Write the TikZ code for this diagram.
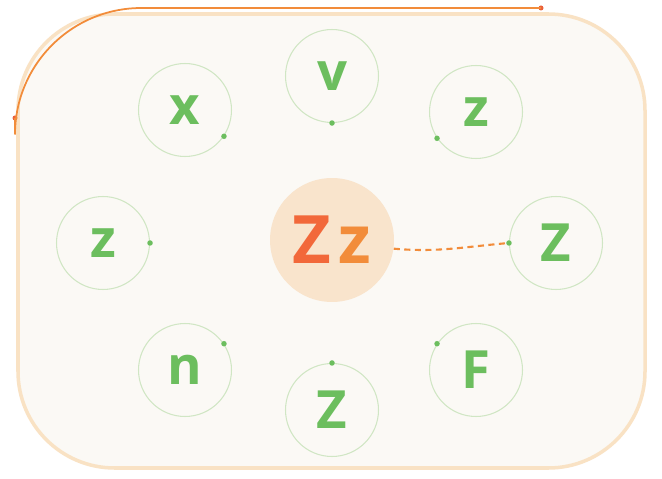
\documentclass[tikz,border=0pt]{standalone}
\usepackage{fontspec}
\setsansfont{Open Sans}
\usepackage{tikz}
\usetikzlibrary{positioning}
\definecolor{leaf}{RGB}{108,190,94}
\definecolor{ringgreen}{RGB}{208,230,196}
\definecolor{peach}{RGB}{249,228,204}
\definecolor{boxfill}{RGB}{251,249,245}
\definecolor{boxedge}{RGB}{249,226,196}
\definecolor{tang}{RGB}{242,140,58}
\definecolor{tangdark}{RGB}{234,96,58}
\definecolor{zred}{RGB}{242,104,58}

\begin{document}
\begin{tikzpicture}[x=0.02cm, y=-0.02cm, every node/.style={font=\sffamily\bfseries}]
\tikzset{ring/.style={draw=ringgreen, line width=0.6pt, circle, minimum size=1.86cm, inner sep=0pt, text=leaf, font=\sffamily\bfseries\fontsize{30}{30}\selectfont}}
\tikzset{hub/.style={circle, fill=peach, minimum size=2.48cm, inner sep=0pt, font=\sffamily\bfseries\fontsize{38}{38}\selectfont}}
\tikzset{pin/.style={circle, fill=leaf, minimum size=0.11cm, inner sep=0pt}}
\tikzset{tip/.style={circle, fill=tangdark, minimum size=0.1cm, inner sep=0pt}}

\useasboundingbox[fill=white] (0,0) rectangle (662,479);

% frame
\draw[boxedge, line width=2pt, fill=boxfill, rounded corners=55] (18,14) rectangle (645,468);
\node[tip] (t1) at (15,118) {};
\node[tip] (t2) at (541,8) {};
\draw[tang, line width=1pt, rounded corners=72] (t1.center) -- (15,8) -- (t2.center);

% middle
\node[hub] (zz) at (332,240) {\textcolor{zred}{Z}\kern4pt\textcolor{tang}{z}};

% ring of letters
\node[ring] (x) at (185,110) {x};
\node[ring] (v) at (332,76) {v};
\node[ring] (z1) at (476,112) {z};
\node[ring] (z2) at (103,243) {z};
\node[ring] (Z1) at (556,243) {Z};
\node[ring] (n) at (185,370) {n};
\node[ring] (Z2) at (332,410) {Z};
\node[ring] (F) at (476,370) {F};

% dots on the rings
\node[pin] (px) at (x.-34) {};
\node[pin] (pv) at (v.-90) {};
\node[pin] (pz1) at (z1.-146) {};
\node[pin] (pz2) at (z2.0) {};
\node[pin] (pZ1) at (Z1.180) {};
\node[pin] (pn) at (n.34) {};
\node[pin] (pZ2) at (Z2.90) {};
\node[pin] (pF) at (F.146) {};

\draw[tang, line width=1.2pt, dash pattern=on 3.5pt off 2.5pt] (zz.-8) to[out=-5, in=185] (pZ1);
\end{tikzpicture}
\end{document}
